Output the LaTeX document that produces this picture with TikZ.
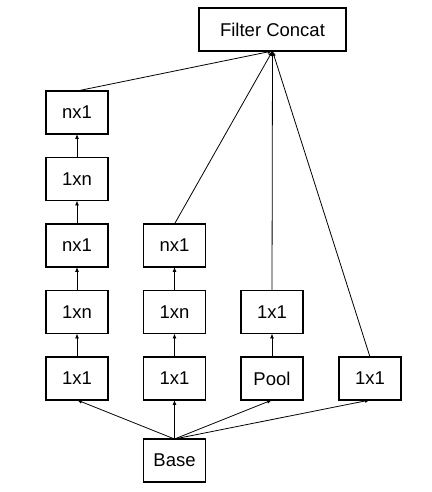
\documentclass[tikz,border=0pt]{standalone}
\usepackage{fontspec}
\setmainfont{Liberation Sans}
\usepackage{tkz-berge}
\usetikzlibrary{arrows.meta}

\begin{document}
\begin{tikzpicture}[x=1pt,y=1pt,>={Latex[length=5pt,width=4pt]}]
\useasboundingbox (0,0) rectangle (431,492);
\GraphInit[vstyle=Normal]
\tikzset{VertexStyle/.style={draw, rectangle, line width=1.9pt,
  minimum width=62pt, minimum height=43pt, inner sep=0pt,
  font=\fontsize{18.5}{22}\selectfont}}
\tikzset{EdgeStyle/.style={line width=0.8pt}}
{\tikzset{VertexStyle/.append style={minimum width=147pt}}
\Vertex[x=272.5, y=462.5, L=Filter Concat]{FC}}
\Vertex[x=174.5, y=31.5, L=Base]{Base}
\Vertex[x=77, y=113.5, L=1x1]{A1}
\Vertex[x=77, y=180, L=1xn]{A2}
\Vertex[x=77, y=246.5, L=nx1]{A3}
\Vertex[x=77, y=313, L=1xn]{A4}
\Vertex[x=77, y=379.5, L=nx1]{A5}
\Vertex[x=174.5, y=113.5, L=1x1]{B1}
\Vertex[x=174.5, y=180, L=1xn]{B2}
\Vertex[x=174.5, y=246.5, L=nx1]{B3}
\Vertex[x=272, y=113.5, L=Pool]{C1}
\Vertex[x=272, y=180, L=1x1]{C2}
\Vertex[x=370, y=113.5, L=1x1]{D1}
\Edge[style={->}](Base.north)(A1.south)
\Edge[style={->}](Base.north)(B1.south)
\Edge[style={->}](Base.north)(C1.south)
\Edge[style={->}](Base.north)(D1.south)
\Edge[style={->}](A1)(A2)
\Edge[style={->}](A2)(A3)
\Edge[style={->}](A3)(A4)
\Edge[style={->}](A4)(A5)
\Edge[style={->}](B1)(B2)
\Edge[style={->}](B2)(B3)
\Edge[style={->}](C1)(C2)
\Edge[style={->}](A5.north)(FC.south)
\Edge[style={->}](B3.north)(FC.south)
\Edge[style={->}](C2.north)(FC.south)
\Edge[style={->}](D1.north)(FC.south)
\end{tikzpicture}
\end{document}
